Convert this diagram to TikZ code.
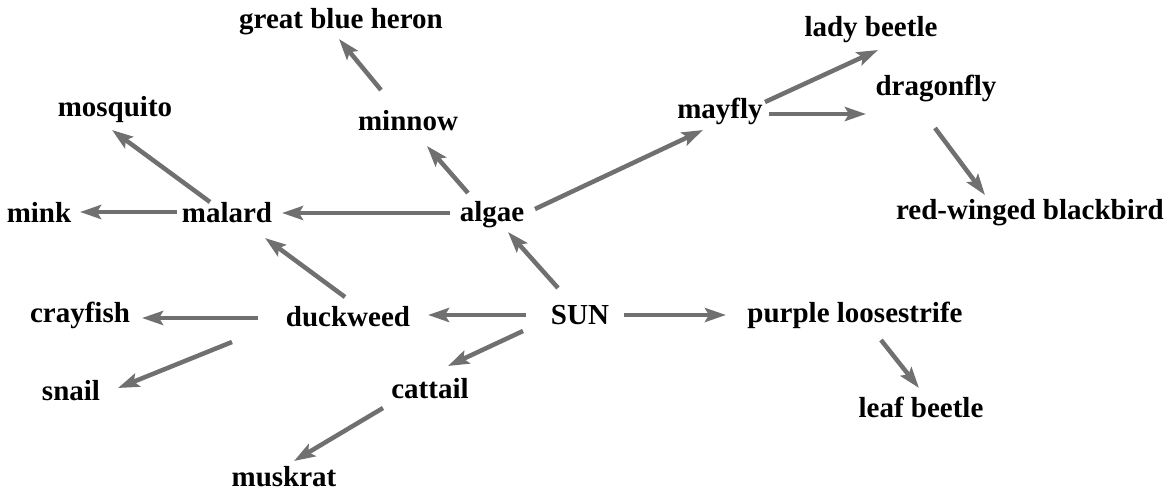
\documentclass[tikz,border=0pt]{standalone}
\usepackage{fontspec}
\setmainfont{Liberation Serif}
\usetikzlibrary{arrows.meta,calc}
\definecolor{arrowgray}{RGB}{112,112,112}
\tikzset{
  lbl/.style={anchor=base, inner sep=0pt, font=\fontsize{29}{34}\selectfont\bfseries, text=black},
  arr/.style={draw=arrowgray, line width=4.5pt, -{Stealth[length=21pt,width=14pt,inset=4pt]}}
}
\begin{document}
\begin{tikzpicture}[x=1pt,y=-1pt]
\useasboundingbox (0,0) rectangle (1171,491);
% nodes
\node[lbl] (heron) at (341,28) {great blue heron};
\node[lbl] (mosquito) at (115,116) {mosquito};
\node[lbl] (minnow) at (408,130) {minnow};
\node[lbl] (mink) at (39,222) {mink};
\node[lbl] (malard) at (227,222) {malard};
\node[lbl] (algae) at (492,221) {algae};
\node[lbl] (mayfly) at (720,118) {mayfly};
\node[lbl] (lady) at (871,36) {lady beetle};
\node[lbl] (dragonfly) at (936,95) {dragonfly};
\node[lbl] (redwing) at (1030,219) {red-winged blackbird};
\node[lbl] (crayfish) at (80,322) {crayfish};
\node[lbl] (snail) at (71,400) {snail};
\node[lbl] (duckweed) at (348,326) {duckweed};
\node[lbl] (sun) at (580,324) {SUN};
\node[lbl] (purple) at (855,322) {purple loosestrife};
\node[lbl] (cattail) at (430,398) {cattail};
\node[lbl] (leaf) at (921,417) {leaf beetle};
\node[lbl] (muskrat) at (284,486) {muskrat};
% connectors
\draw[arr] ($(minnow.base)+(-27,-40)$) -- ($(heron.base)+(-2,11)$);
\draw[arr] ($(malard.base)+(-17,-20)$) -- ($(mosquito.base)+(-3,14)$);
\draw[arr] ($(malard.base)+(-50,-10)$) -- ($(mink.base)+(41,-10)$);
\draw[arr] ($(algae.base)+(-42,-8)$) -- ($(malard.base)+(55,-9)$);
\draw[arr] ($(algae.base)+(-24,-28)$) -- ($(minnow.base)+(19,16)$);
\draw[arr] ($(algae.base)+(43,-12)$) -- ($(mayfly.base)+(-17,12)$);
\draw[arr] ($(mayfly.base)+(45,-16)$) -- ($(lady.base)+(7,14)$);
\draw[arr] ($(mayfly.base)+(49,-4)$) -- ($(dragonfly.base)+(-70,19)$);
\draw[arr] ($(dragonfly.base)+(-1,33)$) -- ($(redwing.base)+(-45,-24)$);
\draw[arr] ($(sun.base)+(-22,-36)$) -- ($(algae.base)+(16,11)$);
\draw[arr] ($(duckweed.base)+(-3,-29)$) -- ($(malard.base)+(38,16)$);
\draw[arr] ($(sun.base)+(-54,-9)$) -- ($(duckweed.base)+(80,-11)$);
\draw[arr] ($(duckweed.base)+(-90,-8)$) -- ($(crayfish.base)+(62,-4)$);
\draw[arr] ($(duckweed.base)+(-116,16)$) -- ($(snail.base)+(47,-12)$);
\draw[arr] ($(sun.base)+(-57,7)$) -- ($(cattail.base)+(18,-32)$);
\draw[arr] ($(cattail.base)+(-47,10)$) -- ($(muskrat.base)+(10,-25)$);
\draw[arr] ($(sun.base)+(44,-9)$) -- ($(purple.base)+(-129,-7)$);
\draw[arr] ($(purple.base)+(26,18)$) -- ($(leaf.base)+(-2,-29)$);
\end{tikzpicture}
\end{document}
